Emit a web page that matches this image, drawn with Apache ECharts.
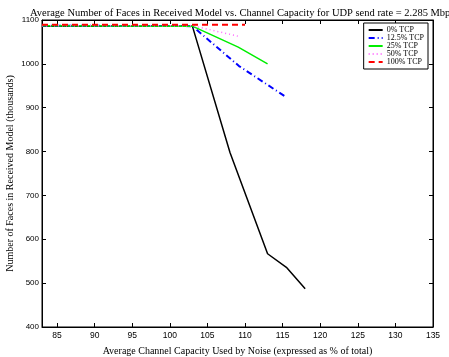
<!DOCTYPE html>
<html>
<head>
<meta charset="utf-8">
<script src="https://cdn.jsdelivr.net/npm/echarts@6/dist/echarts.min.js"></script>
<style>
  html, body { margin: 0; padding: 0; background: #fff; }
  #chart { width: 449px; height: 357px; }
</style>
</head>
<body>
<div id="chart"></div>
<script>
// data: [capacity %, faces (thousands)]
var xTicks = [85, 90, 95, 100, 105, 110, 115, 120, 125, 130, 135];
var yTicks = [400, 500, 600, 700, 800, 900, 1000, 1100];

var tcp0 = [[83, 1086], [103, 1086], [108, 798], [113, 567], [115.5, 536], [118, 487]];
var tcp12 = [[83, 1087], [103, 1086], [109.2, 995], [115.4, 925]];
var tcp25 = [[83, 1087], [103, 1086], [109.1, 1038], [113, 1000]];
var tcp50 = [[83, 1087], [103, 1087], [109.1, 1063]];
var tcp100 = [[83, 1089], [110, 1089]];

var serif = 'Liberation Serif';
var sans = 'Liberation Sans';

drawChart()

function drawChart() {
  var myChart = echarts.init(document.getElementById('chart'));

  function lineSeries(name, data, color, type, width) {
    return {
      name: name,
      type: 'line',
      data: data,
      showSymbol: false,
      symbol: 'none',
      animation: false,
      lineStyle: { color: color, type: type, width: width },
      itemStyle: { color: color }
    };
  }

  var option = {
    animation: false,
    title: {
      text: 'Average Number of Faces in Received Model vs. Channel Capacity for UDP send rate = 2.285 Mbps',
      left: 25,
      top: 3,
      textStyle: { fontFamily: serif, fontSize: 10.5, fontWeight: 'normal', color: '#000' }
    },
    legend: {
      orient: 'vertical',
      right: 21,
      top: 23,
      backgroundColor: '#fff',
      borderColor: '#000',
      borderWidth: 1,
      padding: [3, 4, 3, 4],
      itemGap: 0,
      itemWidth: 14,
      itemHeight: 6,
      itemStyle: { opacity: 0 },
      textStyle: { fontFamily: serif, fontSize: 8, lineHeight: 8, color: '#000', padding: [0, 0, 0, -1] },
      data: ['0% TCP', '12.5% TCP', '25% TCP', '50% TCP', '100% TCP']
    },
    grid: {
      left: 42,
      right: 16,
      top: 20,
      bottom: 30,
      outerBoundsMode: 'none',
      containLabel: false,
      show: true,
      borderColor: '#000',
      borderWidth: 1
    },
    xAxis: [{
      type: 'value',
      min: 83,
      max: 135,
      name: 'Average Channel Capacity Used by Noise (expressed as % of total)',
      nameLocation: 'middle',
      nameGap: 19,
      nameMoveOverlap: false,
      nameTextStyle: { fontFamily: serif, fontSize: 10, color: '#000' },
      axisLine: { lineStyle: { color: '#000' } },
      axisTick: { inside: true, length: 4, customValues: xTicks, lineStyle: { color: '#000' } },
      axisLabel: { customValues: xTicks, fontFamily: sans, fontSize: 8.5, color: '#000', margin: 4 },
      splitLine: { show: false }
    }, {
      type: 'value',
      position: 'top',
      min: 83,
      max: 135,
      axisLine: { lineStyle: { color: '#000' } },
      axisTick: { inside: true, length: 4, customValues: xTicks, lineStyle: { color: '#000' } },
      axisLabel: { show: false },
      splitLine: { show: false }
    }],
    yAxis: [{
      type: 'value',
      min: 400,
      max: 1100,
      interval: 100,
      name: 'Number of Faces in Received Model (thousands)',
      nameLocation: 'middle',
      nameGap: 27,
      nameMoveOverlap: false,
      nameTextStyle: { fontFamily: serif, fontSize: 10, color: '#000' },
      axisLine: { show: true, lineStyle: { color: '#000' } },
      axisTick: { show: true, inside: true, length: 4, lineStyle: { color: '#000' } },
      axisLabel: { customValues: yTicks, formatter: function (v) { return String(v); }, fontFamily: sans, fontSize: 8, color: '#000', margin: 3 },
      splitLine: { show: false }
    }, {
      type: 'value',
      position: 'right',
      min: 400,
      max: 1100,
      interval: 100,
      axisLine: { show: true, lineStyle: { color: '#000' } },
      axisTick: { show: true, inside: true, length: 4, lineStyle: { color: '#000' } },
      axisLabel: { show: false },
      splitLine: { show: false }
    }],
    series: [
      lineSeries('0% TCP', tcp0, '#000000', 'solid', 1.5),
      lineSeries('12.5% TCP', tcp12, '#0000ff', [6, 3, 1, 3], 2),
      lineSeries('25% TCP', tcp25, '#00ee00', 'solid', 1.5),
      lineSeries('50% TCP', tcp50, '#ff66ff', [1, 3], 1.5),
      lineSeries('100% TCP', tcp100, '#ff0000', [6, 4], 2)
    ]
  };

  myChart.setOption(option);
}
</script>
</body>
</html>
